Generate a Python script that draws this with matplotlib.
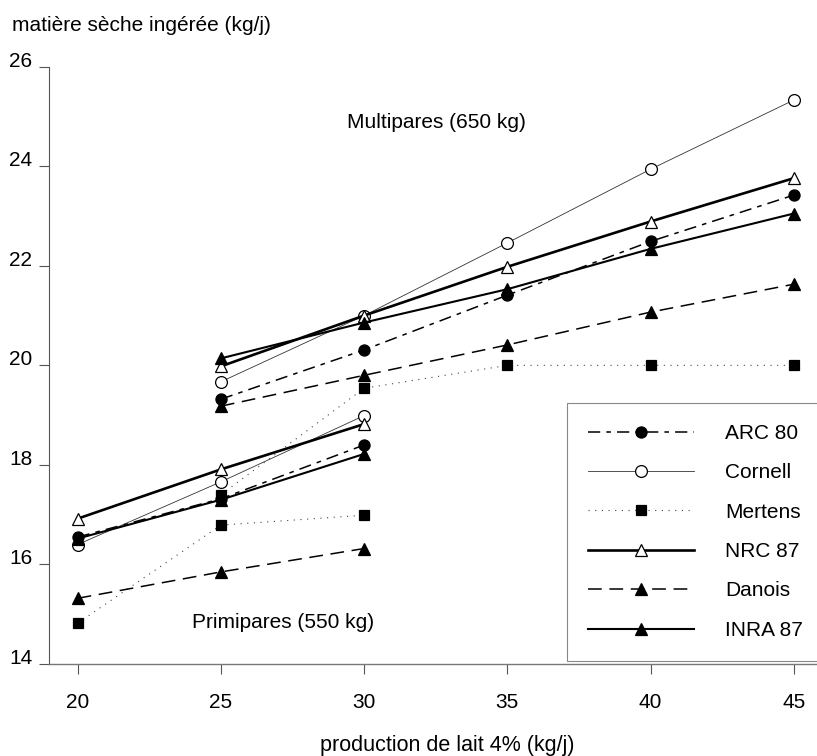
import matplotlib
matplotlib.use("Agg")
import matplotlib.pyplot as plt

plt.rcParams['font.family'] = ['Liberation Sans', 'DejaVu Sans']

# production de lait (kg/j)
x_prim = [20, 25, 30]
x_multi = [25, 30, 35, 40, 45]

# matiere seche ingeree (kg/j), primipares / multipares
arc_prim = [16.55, 17.32, 18.40]
arc_multi = [19.32, 20.31, 21.41, 22.49, 23.42]
cornell_prim = [16.40, 17.66, 18.99]
cornell_multi = [19.67, 21.00, 22.46, 23.94, 25.33]
mertens_prim = [14.82, 16.79, 16.99]
mertens_multi = [17.40, 19.54, 20.00, 20.00, 20.00]
nrc_prim = [16.92, 17.91, 18.82]
nrc_multi = [19.98, 21.00, 21.98, 22.89, 23.76]
danois_prim = [15.32, 15.85, 16.32]
danois_multi = [19.18, 19.80, 20.41, 21.07, 21.63]
inra_prim = [16.52, 17.30, 18.22]
inra_multi = [20.14, 20.86, 21.53, 22.34, 23.05]

labels = ['ARC 80', 'Cornell', 'Mertens', 'NRC 87', 'Danois', 'INRA 87']
series = [(arc_prim, arc_multi), (cornell_prim, cornell_multi),
          (mertens_prim, mertens_multi), (nrc_prim, nrc_multi),
          (danois_prim, danois_multi), (inra_prim, inra_multi)]
styles = [
    dict(ls=(0, (8, 4, 3, 4)), lw=1.1, marker='o', ms=8, mfc='black', color='black'),
    dict(ls='-', lw=0.6, marker='o', ms=8.5, mfc='white', color='#333333'),
    dict(ls=(0, (1, 5)), lw=0.8, marker='s', ms=7.5, mfc='black', color='#444444'),
    dict(ls='-', lw=1.9, marker='^', ms=9, mfc='white', color='black'),
    dict(ls=(0, (9, 5)), lw=1.1, marker='^', ms=8.5, mfc='black', color='black'),
    dict(ls='-', lw=1.5, marker='^', ms=8.5, mfc='black', color='black'),
]

fig = plt.figure(figsize=(8.17, 7.56), dpi=100)
ax = fig.add_axes([49 / 817, 92 / 756, 768 / 817, 597.3 / 756])

handles = []
for (prim, multi), st, lab in zip(series, styles, labels):
    ax.plot(x_prim, prim, mec='black', mew=0.9, **st)
    h, = ax.plot(x_multi, multi, mec='black', mew=0.9, label=lab, **st)
    handles.append(h)

ax.set_xlim(19.0, 45.81)
ax.set_ylim(14, 26)
ax.set_xticks([20, 25, 30, 35, 40, 45])
ax.set_yticks([14, 16, 18, 20, 22, 24, 26])
for s in ['top', 'right']:
    ax.spines[s].set_visible(False)
ax.spines['left'].set_color('#555555')
ax.spines['bottom'].set_color('#777777')
ax.spines['left'].set_linewidth(0.8)
ax.spines['bottom'].set_linewidth(1.0)
ax.tick_params(axis='y', direction='out', length=7, width=0.8, color='#555555',
               labelsize=15, pad=5)
ax.tick_params(axis='x', direction='out', length=7, width=0.8, color='#555555',
               labelsize=15, pad=14)
for t in ax.get_yticklabels():
    t.set_verticalalignment('baseline')

ax.text(29.41, 24.77, 'Multipares (650 kg)', fontsize=15, va='baseline', ha='left')
ax.text(23.99, 14.72, 'Primipares (550 kg)', fontsize=15, va='baseline', ha='left')

fig.text(12 / 817, 1 - 31 / 756, 'matière sèche ingérée (kg/j)', fontsize=15,
         va='baseline', ha='left')
fig.text(447 / 817, 1 - 751 / 756, 'production de lait 4% (kg/j)', fontsize=15.5,
         va='baseline', ha='center')

leg_top = 1 - 403 / 756
leg = ax.legend(handles=handles, loc='upper left',
                bbox_to_anchor=(567 / 817, leg_top - 0.3, 280 / 817, 0.3),
                bbox_transform=fig.transFigure, mode='expand', borderaxespad=0,
                fontsize=15, handlelength=5.1, handletextpad=1.5,
                labelspacing=0.98, borderpad=1.0, fancybox=False,
                edgecolor='#888888', framealpha=1)
leg.get_frame().set_linewidth(0.8)

fig.savefig('out.png', dpi=100)
